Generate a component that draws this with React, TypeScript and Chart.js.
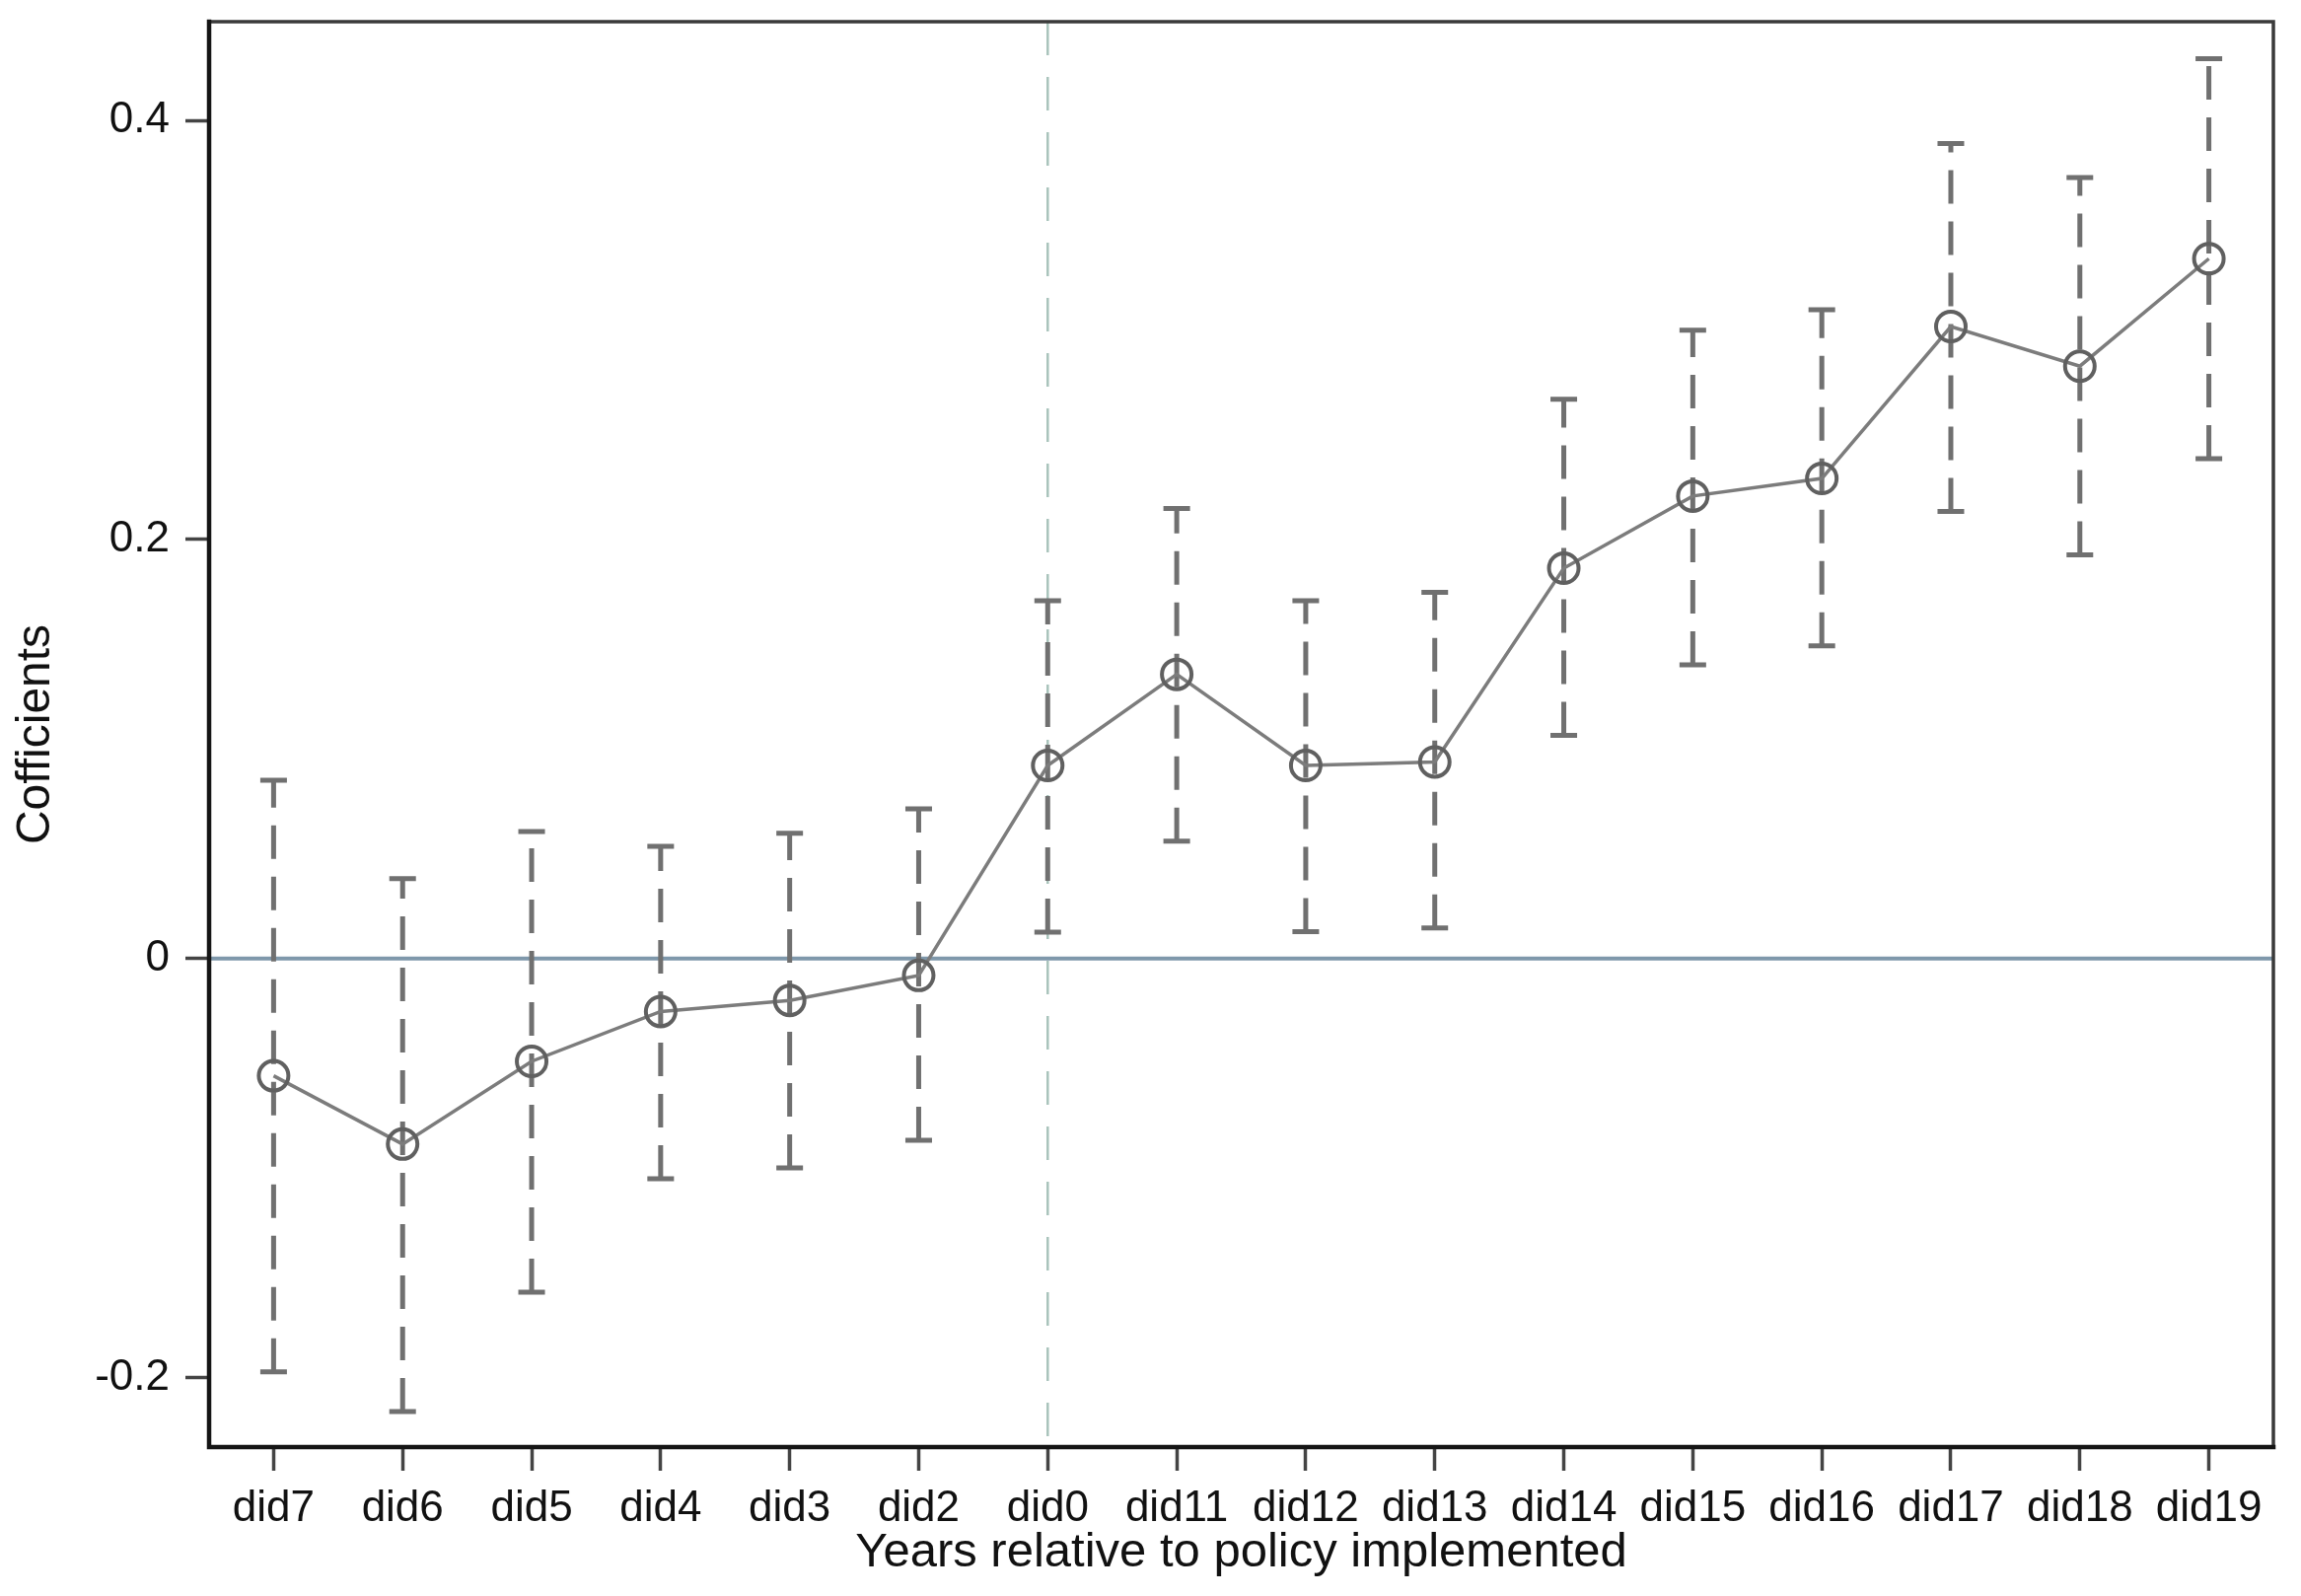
import React, { useEffect, useRef } from "react";
import { Chart, registerables } from "chart.js";

Chart.register(...registerables);

const categories = ["did7", "did6", "did5", "did4", "did3", "did2", "did0", "did11", "did12", "did13", "did14", "did15", "did16", "did17", "did18", "did19"];
const coefficients = [-0.056, -0.0886, -0.0491, -0.0253, -0.020, -0.0081, 0.0921, 0.1356, 0.0921, 0.0938, 0.1863, 0.2207, 0.2291, 0.3016, 0.2827, 0.334];
const upperCI = [0.085, 0.0381, 0.0606, 0.0535, 0.0598, 0.0714, 0.1707, 0.2148, 0.1707, 0.1747, 0.2669, 0.2998, 0.3096, 0.389, 0.3727, 0.4295];
const lowerCI = [-0.1973, -0.2162, -0.1593, -0.1052, -0.100, -0.0868, 0.0125, 0.056, 0.0128, 0.0145, 0.1065, 0.1401, 0.1492, 0.2133, 0.1926, 0.2385];
const yTickValues = [-0.2, 0, 0.2, 0.4];
const yTickLabels = ["-0.2", "0", "0.2", "0.4"];
const policyCategory = "did0";
const yMin = -0.2332;
const yMax = 0.4471;

const FONT = "'Liberation Sans', Arial, sans-serif";

const overlayPlugin = {
  id: "overlay",
  beforeDatasetsDraw(chart: any) {
    const { ctx, chartArea, scales } = chart;
    const xs = scales.x;
    const ys = scales.y;
    ctx.save();
    ctx.beginPath();
    ctx.rect(chartArea.left, chartArea.top, chartArea.right - chartArea.left, chartArea.bottom - chartArea.top);
    ctx.clip();

    // vertical dashed reference line at policy year
    const px = xs.getPixelForValue(categories.indexOf(policyCategory));
    ctx.strokeStyle = "#a9c4bc";
    ctx.lineWidth = 2.5;
    ctx.setLineDash([34, 22]);
    ctx.beginPath();
    ctx.moveTo(px, chartArea.top);
    ctx.lineTo(px, chartArea.bottom);
    ctx.stroke();

    // zero line
    const y0 = ys.getPixelForValue(0);
    ctx.setLineDash([]);
    ctx.strokeStyle = "#7f98ab";
    ctx.lineWidth = 4;
    ctx.beginPath();
    ctx.moveTo(chartArea.left, y0);
    ctx.lineTo(chartArea.right, y0);
    ctx.stroke();

    // error bars
    ctx.strokeStyle = "#707070";
    for (let i = 0; i < categories.length; i++) {
      const x = xs.getPixelForValue(i);
      const yu = ys.getPixelForValue(upperCI[i]);
      const yl = ys.getPixelForValue(lowerCI[i]);
      ctx.lineWidth = 5;
      ctx.setLineDash([34, 18]);
      ctx.beginPath();
      ctx.moveTo(x, yl);
      ctx.lineTo(x, yu);
      ctx.stroke();
      ctx.setLineDash([]);
      ctx.lineWidth = 5;
      ctx.beginPath();
      ctx.moveTo(x - 13.5, yu);
      ctx.lineTo(x + 13.5, yu);
      ctx.moveTo(x - 13.5, yl);
      ctx.lineTo(x + 13.5, yl);
      ctx.stroke();
    }
    ctx.restore();
  },
  afterDraw(chart: any) {
    const { ctx, chartArea } = chart;
    ctx.save();
    ctx.setLineDash([]);
    ctx.lineCap = "square";
    ctx.strokeStyle = "#3a3a3a";
    ctx.lineWidth = 3.5;
    ctx.beginPath();
    ctx.moveTo(chartArea.left, chartArea.top);
    ctx.lineTo(chartArea.right, chartArea.top);
    ctx.lineTo(chartArea.right, chartArea.bottom);
    ctx.stroke();
    ctx.strokeStyle = "#151515";
    ctx.lineWidth = 4.5;
    ctx.beginPath();
    ctx.moveTo(chartArea.left, chartArea.top);
    ctx.lineTo(chartArea.left, chartArea.bottom);
    ctx.lineTo(chartArea.right, chartArea.bottom);
    ctx.stroke();
    ctx.restore();
  },
};

export default function App() {
  const canvasRef = useRef<HTMLCanvasElement | null>(null);

  useEffect(() => {
    if (!canvasRef.current) return;
    const chart = new Chart(canvasRef.current, {
      type: "line",
      data: {
        labels: categories,
        datasets: [
          {
            data: coefficients,
            borderColor: "#7c7c7c",
            borderWidth: 3.5,
            pointRadius: 15,
            pointBorderWidth: 4,
            pointBorderColor: "#606060",
            pointBackgroundColor: "rgba(0,0,0,0)",
            pointStyle: "circle",
            fill: false,
            tension: 0,
            clip: false as any,
          },
        ],
      },
      options: {
        animation: false,
        responsive: false,
        devicePixelRatio: 1,
        layout: { padding: { top: 22, right: 28, left: 0, bottom: 0 } },
        plugins: {
          legend: { display: false },
          tooltip: { enabled: false },
        },
        scales: {
          x: {
            type: "category",
            offset: true,
            grid: {
              display: true,
              offset: false,
              drawOnChartArea: false,
              drawTicks: true,
              tickLength: 24,
              tickColor: "#444",
              tickWidth: 3.5,
            } as any,
            border: { display: false },
            ticks: {
              autoSkip: false,
              maxRotation: 0,
              minRotation: 0,
              padding: 12,
              color: "#111",
              font: { family: FONT, size: 44 },
            },
            title: {
              display: true,
              text: "Years relative to policy implemented",
              color: "#111",
              font: { family: FONT, size: 49 },
              padding: { top: 0, bottom: 14 },
            },
            afterFit(scale: any) {
              scale.height = 151;
              scale.paddingLeft = 0;
              scale.paddingRight = 0;
              scale.paddingTop = 0;
              scale.paddingBottom = 0;
            },
          },
          y: {
            type: "linear",
            min: yMin,
            max: yMax,
            grid: {
              display: true,
              drawOnChartArea: false,
              drawTicks: true,
              tickLength: 24,
              tickColor: "#444",
              tickWidth: 3.5,
            } as any,
            border: { display: false },
            afterBuildTicks(scale: any) {
              scale.ticks = yTickValues.map((v) => ({ value: v }));
            },
            ticks: {
              padding: 16,
              color: "#111",
              font: { family: FONT, size: 44 },
              callback: (value: any) => {
                const idx = yTickValues.findIndex((v) => Math.abs(v - Number(value)) < 1e-9);
                return idx >= 0 ? yTickLabels[idx] : "";
              },
            },
            title: {
              display: true,
              text: "Cofficients",
              color: "#111",
              font: { family: FONT, size: 48 },
              padding: { top: 8, bottom: 0 },
            },
            afterFit(scale: any) {
              scale.width = 212;
              scale.paddingTop = 0;
              scale.paddingBottom = 0;
              scale.paddingLeft = 0;
              scale.paddingRight = 0;
            },
          },
        },
      },
      plugins: [overlayPlugin],
    });
    return () => chart.destroy();
  }, []);

  return (
    <div style={{ position: "absolute", left: 0, top: 0, width: 2333, height: 1618, background: "#fff" }}>
      <canvas ref={canvasRef} width={2333} height={1618} style={{ width: 2333, height: 1618, display: "block" }} />
    </div>
  );
}
